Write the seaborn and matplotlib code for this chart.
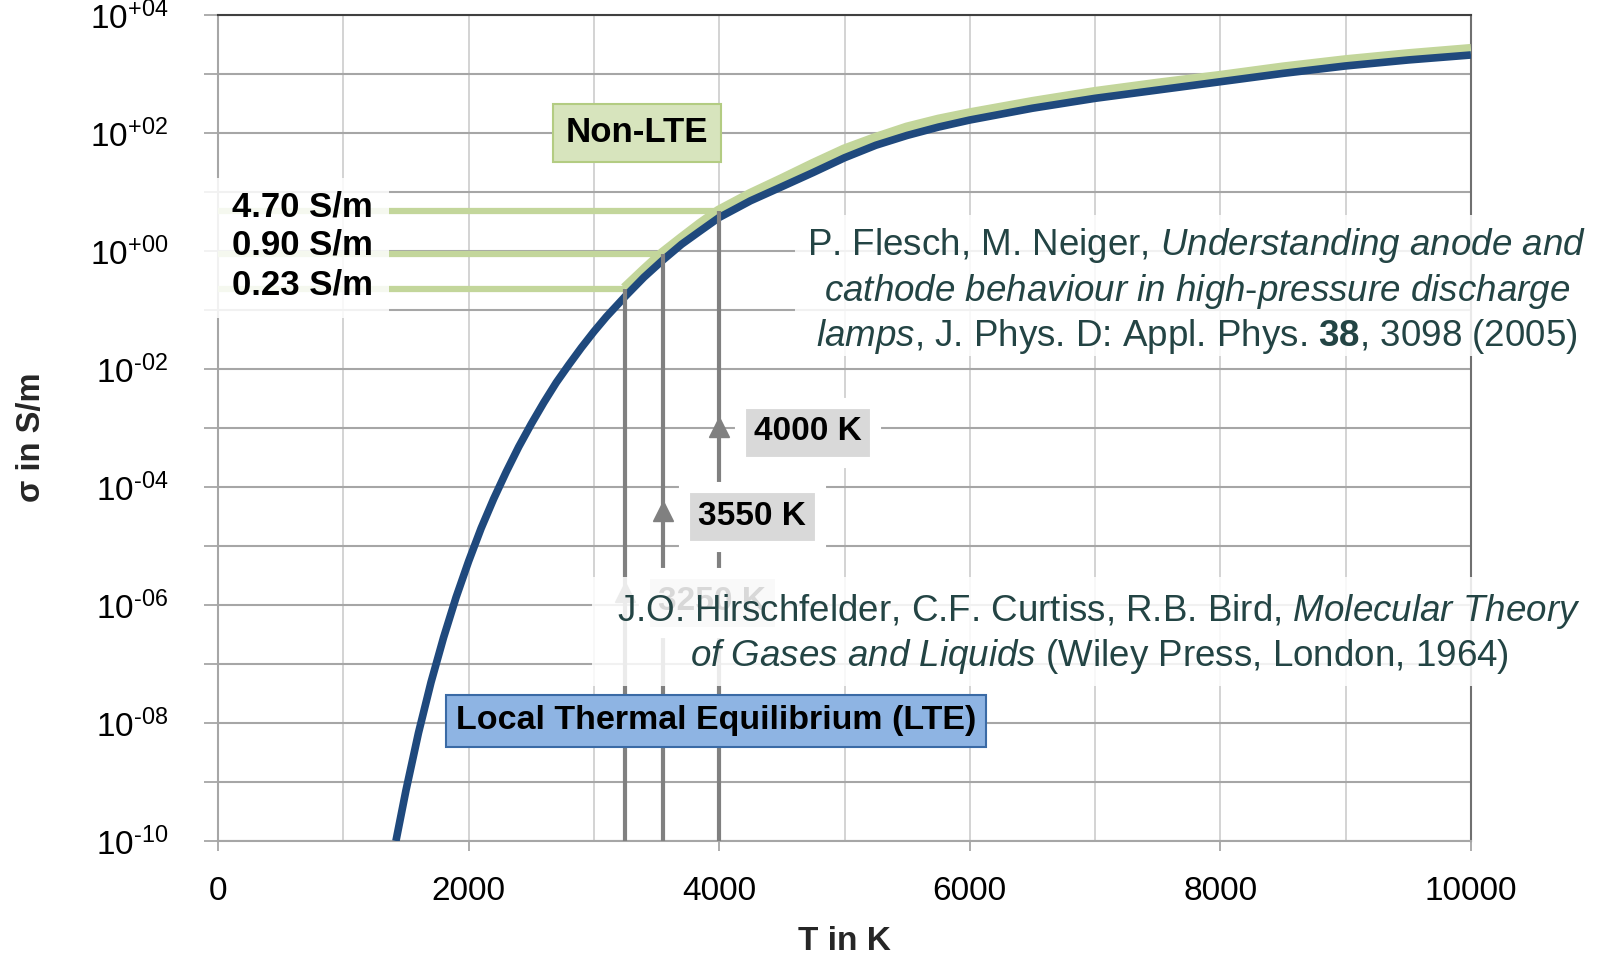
import matplotlib
matplotlib.use("Agg")
import matplotlib.pyplot as plt
import numpy as np
import pandas as pd
import seaborn as sns
from matplotlib.ticker import FixedLocator, FixedFormatter, NullFormatter
from matplotlib.patches import Rectangle

# ---------------- data ----------------
T_lte = [1420, 1500, 1600, 1700, 1800, 1900, 2000, 2100, 2200, 2300, 2400, 2500,
         2600, 2700, 2800, 2900, 3000, 3100, 3250, 3400, 3550, 3700, 3850, 4000,
         4250, 4500, 4750, 5000, 5250, 5500, 5750, 6000, 6500, 7000, 7500, 8000,
         8500, 9000, 9500, 10000]
sigma_lte = [1.0e-10, 7.2e-10, 6.8e-9, 4.9e-8, 2.8e-7, 1.35e-6, 5.5e-6, 2.0e-5,
             6.3e-5, 1.8e-4, 4.8e-4, 1.17e-3, 2.7e-3, 5.9e-3, 1.18e-2, 2.3e-2,
             4.3e-2, 7.7e-2, 0.17, 0.36, 0.70, 1.3, 2.2, 3.7,
             7.1, 12.3, 21.4, 38, 62, 91, 126, 166, 263, 387, 535, 740,
             1025, 1370, 1730, 2100]

T_nonlte = [3250, 3400, 3550, 3700, 3850, 4000, 4250, 4500, 4750, 5000, 5250, 5500,
            5750, 6000, 6500, 7000, 7500, 8000, 8500, 9000, 9500, 10000]
sigma_nonlte = [0.23, 0.46, 0.90, 1.6, 2.8, 4.70, 9.0, 16, 29, 51, 80, 120,
                163, 209, 325, 480, 665, 900, 1250, 1660, 2100, 2570]

T_marked = [3250, 3550, 4000]
sigma_marked = [0.23, 0.90, 4.70]
sigma_labels = ["0.23 S/m", "0.90 S/m", "4.70 S/m"]
temp_labels = ["3250 K", "3550 K", "4000 K"]

x_major = [0, 2000, 4000, 6000, 8000, 10000]
x_minor = [1000, 3000, 5000, 7000, 9000]
y_major_exp = [4, 2, 0, -2, -4, -6, -8, -10]
y_minor_exp = [3, 1, -1, -3, -5, -7, -9]

cite1 = ("P. Flesch, M. Neiger, $\\mathit{Understanding\\ anode\\ and}$\n"
         "$\\mathit{cathode\\ behaviour\\ in\\ high}$-$\\mathit{pressure\\ discharge}$\n"
         "$\\mathit{lamps}$, J. Phys. D: Appl. Phys. $\\mathbf{38}$, 3098 (2005)")
cite2 = ("J.O. Hirschfelder, C.F. Curtiss, R.B. Bird, $\\mathit{Molecular\\ Theory}$\n"
         "$\\mathit{of\\ Gases\\ and\\ Liquids}$ (Wiley Press, London, 1964)")

# ---------------- style ----------------
sns.set_theme(style="white")
plt.rcParams["font.family"] = ["Liberation Sans", "DejaVu Sans"]
plt.rcParams["mathtext.fontset"] = "custom"
plt.rcParams["mathtext.rm"] = "Liberation Sans"
plt.rcParams["mathtext.it"] = "Liberation Sans:italic"
plt.rcParams["mathtext.bf"] = "Liberation Sans:bold"
plt.rcParams["mathtext.default"] = "regular"

W, H = 1604, 961
fig = plt.figure(figsize=(W / 100, H / 100), dpi=100)
ax = fig.add_axes([218 / W, 1 - 841 / H, (1471 - 218) / W, (841 - 15) / H])

GREEN = "#c3d69b"
BLUE = "#1f497d"
GREY = "#808080"
TEXTC = "#234444"

df_lte = pd.DataFrame({"T": T_lte, "sigma": sigma_lte})
df_non = pd.DataFrame({"T": T_nonlte, "sigma": sigma_nonlte})

ax.set_yscale("log")
sns.lineplot(data=df_non, x="T", y="sigma", ax=ax, color=GREEN, lw=8.5,
             zorder=4, solid_capstyle="butt")
sns.lineplot(data=df_lte, x="T", y="sigma", ax=ax, color=BLUE, lw=5.5,
             zorder=5, solid_capstyle="butt")

# horizontal green lines and vertical grey lines
ax.hlines(sigma_marked, 0, T_marked, color=GREEN, lw=4.5, zorder=3)
ax.vlines(T_marked, 1e-10, sigma_marked, color=GREY, lw=3, zorder=6)
arrow_y = [10 ** -5.78, 10 ** -4.41, 10 ** -2.98]
ax.plot(T_marked, arrow_y, ls="none", marker="^", ms=15, color=GREY, zorder=6)

ax.set_xlim(0, 10000)
ax.set_ylim(1e-10, 1e4)

# ticks & grid
def exp_label(e):
    sign = "+" if e >= 0 else "\u2010"
    return r"$\mathregular{10^{%s%02d}}$" % (sign, abs(e))

ax.xaxis.set_major_locator(FixedLocator(x_major))
ax.xaxis.set_minor_locator(FixedLocator(x_minor))
ax.yaxis.set_major_locator(FixedLocator([10.0 ** e for e in y_major_exp]))
ax.yaxis.set_major_formatter(FixedFormatter([exp_label(e) for e in y_major_exp]))
ax.yaxis.set_minor_locator(FixedLocator([10.0 ** e for e in y_minor_exp]))
ax.yaxis.set_minor_formatter(NullFormatter())
ax.grid(which="both", axis="x", color="#d0d0d0", lw=1.3, zorder=0)
ax.grid(which="both", axis="y", color="#a6a6a6", lw=1.5, zorder=0)
ax.set_axisbelow(True)
ax.tick_params(axis="y", which="both", left=True, direction="out", length=10,
               width=1.3, color="#a6a6a6", pad=26, labelsize=24)
ax.tick_params(axis="x", which="major", bottom=True, direction="out", length=7,
               width=1.3, color="#a6a6a6", pad=18, labelsize=24)
ax.tick_params(axis="x", which="minor", bottom=False, length=0)
for lbl in ax.get_xticklabels() + ax.get_yticklabels():
    lbl.set_color("black")

for side, c in (("top", "#404040"), ("right", "#707070"),
                ("left", "#a6a6a6"), ("bottom", "#a6a6a6")):
    ax.spines[side].set_color(c)
    ax.spines[side].set_linewidth(1.5)

ax.set_xlabel("T in K", fontsize=24, fontweight="bold", va="center")
ax.xaxis.set_label_coords(0.4996, -0.1217)
ax.set_ylabel("σ in S/m", fontsize=23.5, fontweight="bold", va="center")
ax.yaxis.set_label_coords(-0.149, 0.489)

# ---- translucent white boxes
def px_rect(x0, y0, x1, y1, z, alpha=0.85):
    r = Rectangle((x0 / W, 1 - y1 / H), (x1 - x0) / W, (y1 - y0) / H,
                  transform=fig.transFigure, facecolor="white", edgecolor="none",
                  alpha=alpha, zorder=z, clip_on=False)
    ax.add_patch(r)

px_rect(200, 178, 389, 318, 3.5)
label_y_px = [285, 245, 207]
for s, yp in zip(sigma_labels, label_y_px):
    ax.text(232 / W, 1 - yp / H, s, transform=fig.transFigure, ha="left",
            va="center", fontsize=25, fontweight="bold", color="black", zorder=7)

# temperature labels
temp_pos_px = [(712, 602), (752, 516.5), (807.5, 432)]
for s, (xp, yp) in zip(temp_labels, temp_pos_px):
    ax.text(xp / W, 1 - yp / H, s, transform=fig.transFigure, ha="center",
            va="center", fontsize=24, fontweight="bold", color="black", zorder=7,
            bbox=dict(boxstyle="square,pad=0.42", facecolor="#d9d9d9",
                      edgecolor="white", lw=8))

# Non-LTE and LTE boxes
ax.text(637 / W, 1 - 133 / H, "Non-LTE", transform=fig.transFigure, ha="center",
        va="center", fontsize=25, fontweight="bold", color="black", zorder=9,
        bbox=dict(boxstyle="square,pad=0.36", facecolor="#d7e4bd",
                  edgecolor="#b3cc82", lw=1.5))
ax.text(716 / W, 1 - 721 / H, "Local Thermal Equilibrium (LTE)",
        transform=fig.transFigure, ha="center", va="center", fontsize=24.5,
        fontweight="bold", color="black", zorder=9,
        bbox=dict(boxstyle="square,pad=0.3", facecolor="#8eb4e3",
                  edgecolor="#3a6aa5", lw=1.5))

# citations with translucent white boxes
px_rect(795, 215, 1600, 356, 8)
ax.text(1197 / W, 1 - 291 / H, cite1, transform=fig.transFigure, ha="center",
        va="center", fontsize=26.5, color=TEXTC, linespacing=1.22, zorder=9,
        multialignment="center")
px_rect(592, 577, 1588, 686, 8)
ax.text(1099 / W, 1 - 634 / H, cite2, transform=fig.transFigure, ha="center",
        va="center", fontsize=26.5, color=TEXTC, linespacing=1.22, zorder=9,
        multialignment="center")

fig.savefig("out.png", dpi=100)
